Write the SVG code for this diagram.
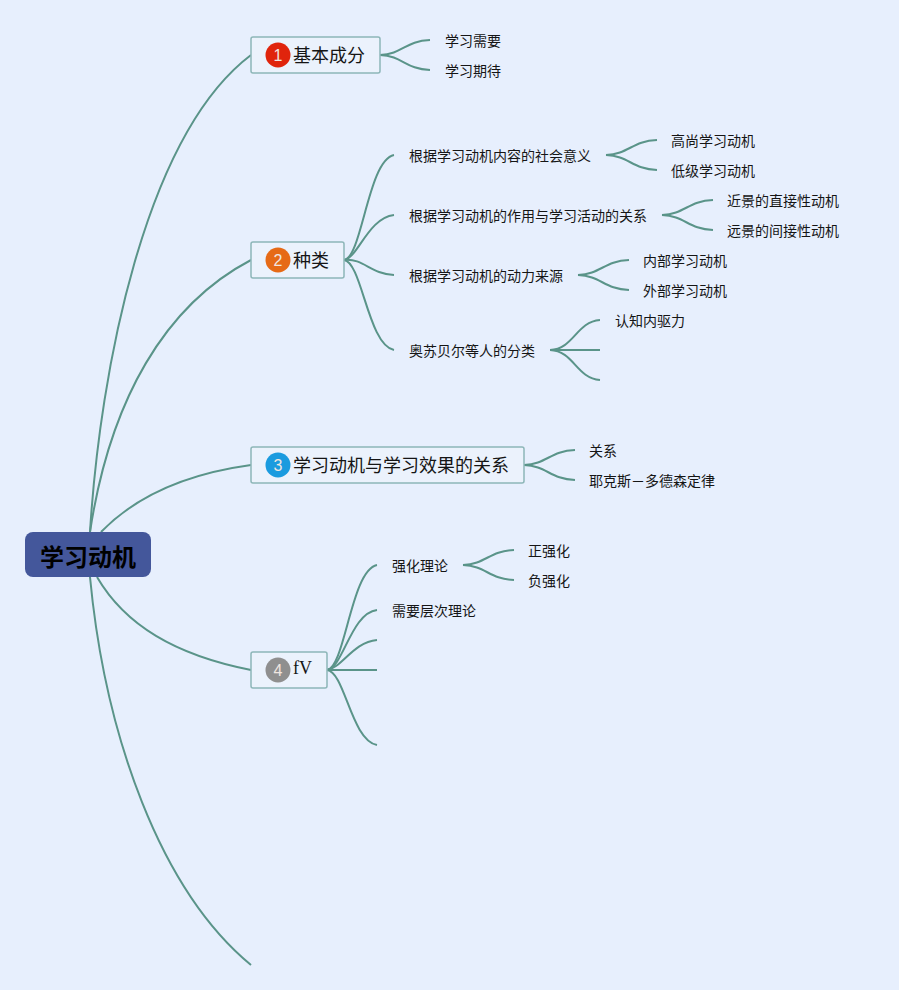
<svg xmlns="http://www.w3.org/2000/svg" width="899" height="990" viewBox="0 0 899 990">
<style>
text{font-family:"Noto Sans CJK SC","Noto Sans",sans-serif;fill:#151515}
.s{font-size:14px}
.m{font-size:18px}
.r{font-size:24px;font-weight:700;fill:#000}
.n{font-family:"Liberation Sans",sans-serif;font-size:16px;fill:#f0e6e0;text-anchor:middle}
.b{fill:#ebf2fc;stroke:#8db6b8;stroke-width:1.5}
#connectors path{fill:none;stroke:#5a9489;stroke-width:2}
</style>
<rect width="899" height="990" fill="#e7effd"/>
<g id="connectors">
<path d="M90 532C100 370 145 135 251 55"/>
<path d="M90 532C110 400 165 305 251 260"/>
<path d="M101 532C135 497 185 474 251 465"/>
<path d="M97 577C125 625 175 655 251 670"/>
<path d="M90 577C105 735 160 890 251 965"/>
<path d="M380 55C403 54 405 41 430 40"/>
<path d="M380 55C403 56 405 69 430 70"/>
<path d="M344 260C362 258 368 160 394 155"/>
<path d="M344 260C358 258 368 218 394 215"/>
<path d="M344 260C364 258 370 274 394 275"/>
<path d="M344 260C362 262 368 345 394 350"/>
<path d="M606 155C629 154 632 141 657 140"/>
<path d="M606 155C629 156 632 169 657 170"/>
<path d="M662 215C685 214 688 201 713 200"/>
<path d="M662 215C685 216 688 229 713 230"/>
<path d="M578 275C601 274 604 261 629 260"/>
<path d="M578 275C601 276 604 289 629 290"/>
<path d="M550 350C574 349 576 322 600 320"/>
<path d="M550 350H600"/>
<path d="M550 350C574 351 576 378 600 380"/>
<path d="M524 465C547 464 550 451 575 450"/>
<path d="M524 465C547 466 550 479 575 480"/>
<path d="M327 670C345 668 351 570 377 565"/>
<path d="M327 670C343 668 351 613 377 610"/>
<path d="M327 670C342 668 353 642 377 640"/>
<path d="M327 670H377"/>
<path d="M327 670C345 672 351 740 377 745"/>
<path d="M463 565C486 564 489 551 514 550"/>
<path d="M463 565C486 566 489 579 514 580"/>
</g>
<g id="root"><rect x="25" y="532" width="126" height="45" rx="8" fill="#44579b"/><text class="r" x="40" y="566">学习动机</text></g>
<g id="node1"><rect class="b" x="251" y="37" width="129" height="36" rx="2"/><circle cx="278" cy="55" r="12.5" fill="#e0240c"/><text class="n" x="278" y="61">1</text><text class="m" x="293" y="62">基本成分</text></g>
<g id="node2"><rect class="b" x="251" y="242" width="93" height="36" rx="2"/><circle cx="278" cy="260" r="12.5" fill="#e66a16"/><text class="n" x="278" y="266">2</text><text class="m" x="293" y="267">种类</text></g>
<g id="node3"><rect class="b" x="251" y="447" width="273" height="36" rx="2"/><circle cx="278" cy="465" r="12.5" fill="#1a9bdf"/><text class="n" x="278" y="471">3</text><text class="m" x="293" y="472">学习动机与学习效果的关系</text></g>
<g id="node4"><rect class="b" x="251" y="652" width="76" height="36" rx="2"/><circle cx="278" cy="670" r="12.5" fill="#8f8f8f"/><text class="n" x="278" y="676">4</text><text x="293" y="674" style="font-family:'Liberation Serif',serif;font-size:18px">fV</text></g>
<g id="leaves">
<text class="s" x="445" y="46">学习需要</text>
<text class="s" x="445" y="76">学习期待</text>
<text class="s" x="409" y="161">根据学习动机内容的社会意义</text>
<text class="s" x="409" y="221">根据学习动机的作用与学习活动的关系</text>
<text class="s" x="409" y="281">根据学习动机的动力来源</text>
<text class="s" x="409" y="356">奥苏贝尔等人的分类</text>
<text class="s" x="671" y="146">高尚学习动机</text>
<text class="s" x="671" y="176">低级学习动机</text>
<text class="s" x="727" y="206">近景的直接性动机</text>
<text class="s" x="727" y="236">远景的间接性动机</text>
<text class="s" x="643" y="266">内部学习动机</text>
<text class="s" x="643" y="296">外部学习动机</text>
<text class="s" x="615" y="326">认知内驱力</text>
<text class="s" x="589" y="456">关系</text>
<text class="s" x="589" y="486">耶克斯－多德森定律</text>
<text class="s" x="392" y="571">强化理论</text>
<text class="s" x="392" y="616">需要层次理论</text>
<text class="s" x="528" y="556">正强化</text>
<text class="s" x="528" y="586">负强化</text>
</g>
</svg>
